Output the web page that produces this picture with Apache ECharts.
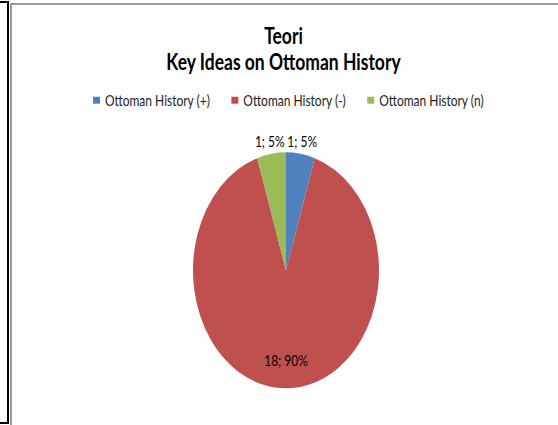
<!DOCTYPE html>
<html>
<head>
<meta charset="utf-8">
<script src="https://cdn.jsdelivr.net/npm/echarts@6/dist/echarts.min.js"></script>
<style>
  html, body { margin: 0; padding: 0; background: #fff; }
  body { width: 558px; height: 425px; position: relative; overflow: hidden; }
  /* chart is laid out at 549x335 and stretched vertically to fill the frame */
  #chart {
    position: absolute; left: 9px; top: 0;
    width: 549px; height: 335px;
    transform: scaleY(1.2687); transform-origin: 0 0;
  }
  .line { position: absolute; }
</style>
</head>
<body>
<div id="chart"></div>
<!-- page frame -->
<div class="line" style="left:0;top:1px;width:9px;height:2px;background:#000"></div>
<div class="line" style="left:7px;top:1px;width:2px;height:423px;background:#000"></div>
<div class="line" style="left:0;top:422px;width:9px;height:2px;background:#000"></div>
<div class="line" style="left:10px;top:3px;width:2px;height:422px;background:#9a9a9a"></div>
<div class="line" style="left:10px;top:3px;width:548px;height:2px;background:#9a9a9a"></div>
<script>
const titleLines = ['Teori', 'Key Ideas on Ottoman History'];
const categories = ['Ottoman History (+)', 'Ottoman History (-)', 'Ottoman History (n)'];
const counts = [1, 18, 1];
const sliceColors = ['#4F81BD', '#C0504D', '#9BBB59'];

const FONT = 'Lato';

// the two thin slices carry their labels just above the pie
const outsideIdx = [0, 2];

const chart = echarts.init(document.getElementById('chart'), null, { renderer: 'svg' });

chart.setOption({
  animation: false,
  backgroundColor: 'transparent',
  title: {
    text: titleLines.join('\n'),
    left: 'center',
    top: 18,
    padding: 0,
    textStyle: {
      fontFamily: FONT, fontWeight: 'bold', fontSize: 17.5,
      lineHeight: 20, color: '#000'
    }
  },
  legend: {
    data: categories,
    left: 84,
    top: 72,
    padding: 0,
    itemGap: 21,
    itemWidth: 7,
    itemHeight: 5.5,
    icon: 'rect',
    selectedMode: false,
    textStyle: { fontFamily: FONT, fontSize: 12, lineHeight: 14, color: '#222' }
  },
  series: [{
    type: 'pie',
    center: [277, 213.1],
    radius: 93,
    startAngle: 90,
    clockwise: true,
    avoidLabelOverlap: false,
    silent: true,
    emphasis: { disabled: true },
    itemStyle: { borderWidth: 0 },
    label: {
      show: true,
      position: 'inside',
      formatter: '{c}; {d}%',
      fontFamily: FONT,
      fontSize: 12,
      color: '#000',
      distanceToLabelLine: 0
    },
    labelLine: { show: false, length: 10.7, length2: 0 },
    labelLayout: function (params) {
      return params.dataIndex === 1 ? { dy: 21 } : { align: 'center' };
    },
    data: categories.map(function (name, i) {
      const item = { name: name, value: counts[i], itemStyle: { color: sliceColors[i] } };
      if (outsideIdx.indexOf(i) >= 0) {
        item.label = { position: 'outside' };
        item.labelLine = { show: false, length: 10.7, length2: 0 };
      }
      return item;
    })
  }]
});
</script>
</body>
</html>
